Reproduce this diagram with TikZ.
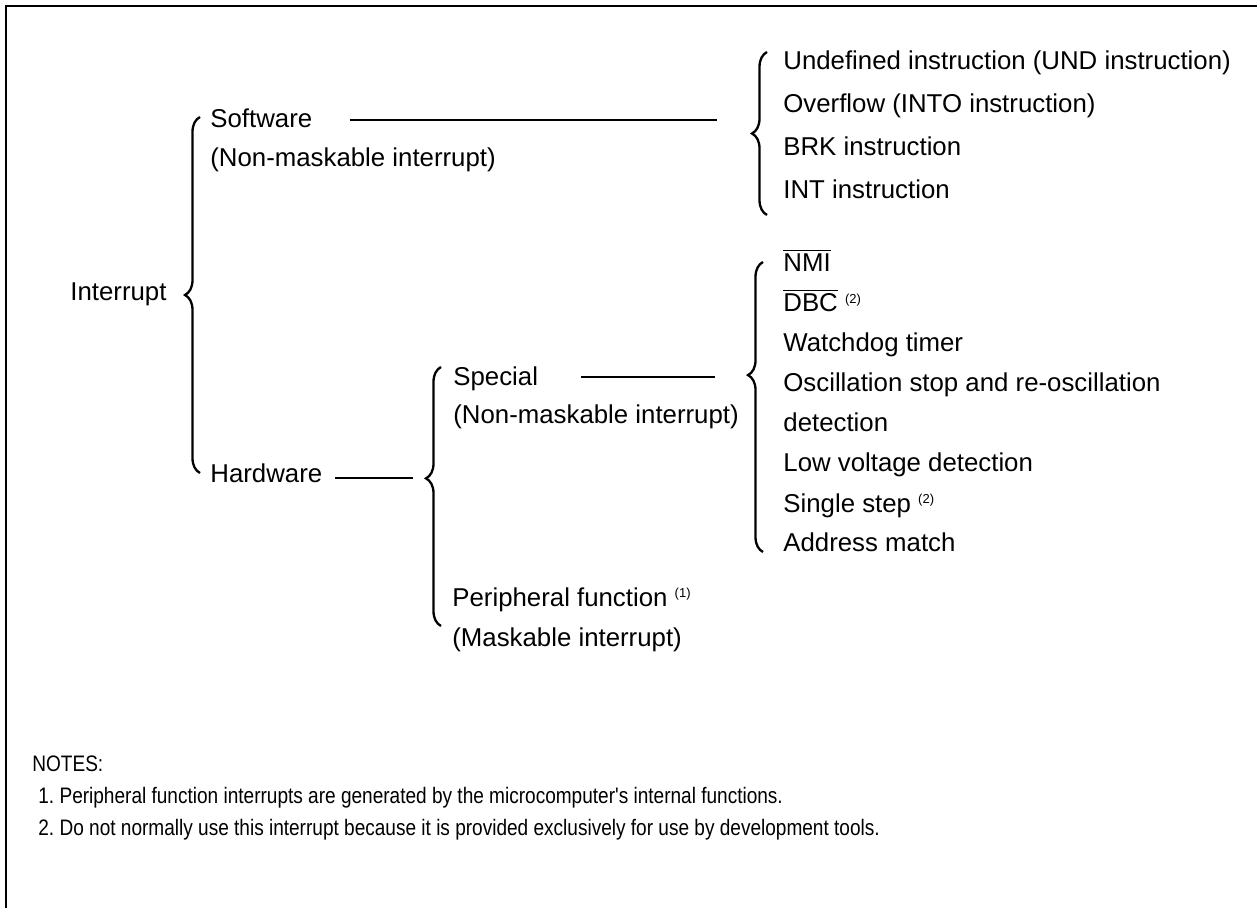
\documentclass[tikz,border=0pt]{standalone}
\usepackage{amsmath}
\usepackage{fontspec}
\setmainfont{Liberation Sans}
\newfontfamily\narrowfont[FakeStretch=0.85]{Liberation Sans}
\usetikzlibrary{calc,decorations.pathreplacing}
\newcommand{\fnref}[1]{\textsuperscript{\fontsize{6.5}{7}\selectfont(#1)}}
\frenchspacing

\begin{document}
\begin{tikzpicture}[
  x=0.5pt, y=-0.5pt,
  font=\fontsize{12.9}{15}\selectfont,
  txt/.style={anchor=base west, inner sep=0pt},
  item/.style={txt},
  note/.style={txt, font=\narrowfont\fontsize{11.2}{13}\selectfont},
  link/.style={draw, line width=1pt},
  frame/.style={draw, line width=1.3pt},
  curly/.style={draw, line width=1.15pt, decorate,
                decoration={brace, amplitude=7.5pt, aspect=#1}},
  curly/.default=0.5
]
\useasboundingbox (0,0) rectangle (1257,908);
\draw[frame] (6,908) -- (6,6) -- (1257,6);

% tree labels
\node[txt] (intr) at (70,301) {Interrupt};
\node[txt] (sw) at (210,128) {Software};
\node[txt] (swn) at ([yshift=-19.5pt]sw.base west) {(Non-maskable interrupt)};
\node[txt] (hw) at (210,483) {Hardware};
\node[txt] (sp) at (453,386) {Special};
\node[txt] (spn) at ([yshift=-19pt]sp.base west) {(Non-maskable interrupt)};
\node[txt] (pf) at (452,606) {Peripheral function \fnref{1}};
\node[txt] (pfn) at ([yshift=-20pt]pf.base west) {(Maskable interrupt)};

% software sources
\node[item] (und) at (783,70) {Undefined instruction (UND instruction)};
\node[item] (ovf) at ([yshift=-21.35pt]und.base west) {Overflow (INTO instruction)};
\node[item] (brk) at ([yshift=-21.35pt]ovf.base west) {BRK instruction};
\node[item] (int) at ([yshift=-21.35pt]brk.base west) {INT instruction};

% special sources
\node[item] (nmi) at (783,272) {$\overline{\text{NMI}}$};
\node[item] (dbc) at ([yshift=-20pt]nmi.base west) {$\overline{\text{DBC}}$ \fnref{2}};
\node[item] (wdt) at ([yshift=-20pt]dbc.base west) {Watchdog timer};
\node[item] (osc) at ([yshift=-20pt]wdt.base west) {Oscillation stop and re-oscillation};
\node[item] (oscd) at ([yshift=-20pt]osc.base west) {detection};
\node[item] (lvd) at ([yshift=-20pt]oscd.base west) {Low voltage detection};
\node[item] (sst) at ([yshift=-20pt]lvd.base west) {Single step \fnref{2}};
\node[item] (adm) at ([yshift=-20pt]sst.base west) {Address match};

% braces
\draw[curly] (200,473) -- (200,117);
\draw[curly] (767,215) -- (767,52);
\draw[curly=0.61] (763,552) -- (763,262);
\draw[curly=0.57] (441,626) -- (441,367);

% connectors
\coordinate (swend) at (717,120);
\coordinate (spend) at (715,377);
\coordinate (hwend) at (413,478);
\draw[link] ($(sw.base east)+(37,-8)$) -- (swend);
\draw[link] ($(sp.base east)+(43,-9)$) -- (spend);
\draw[link] ($(hw.base east)+(12,-5)$) -- (hwend);

% notes
\node[note] (nh) at (32,771) {NOTES:};
\node[note] (n1) at (38,803) {1. Peripheral function interrupts are generated by the microcomputer's internal functions.};
\node[note] (n2) at ([yshift=-16pt]n1.base west) {2. Do not normally use this interrupt because it is provided exclusively for use by development tools.};
\end{tikzpicture}
\end{document}
